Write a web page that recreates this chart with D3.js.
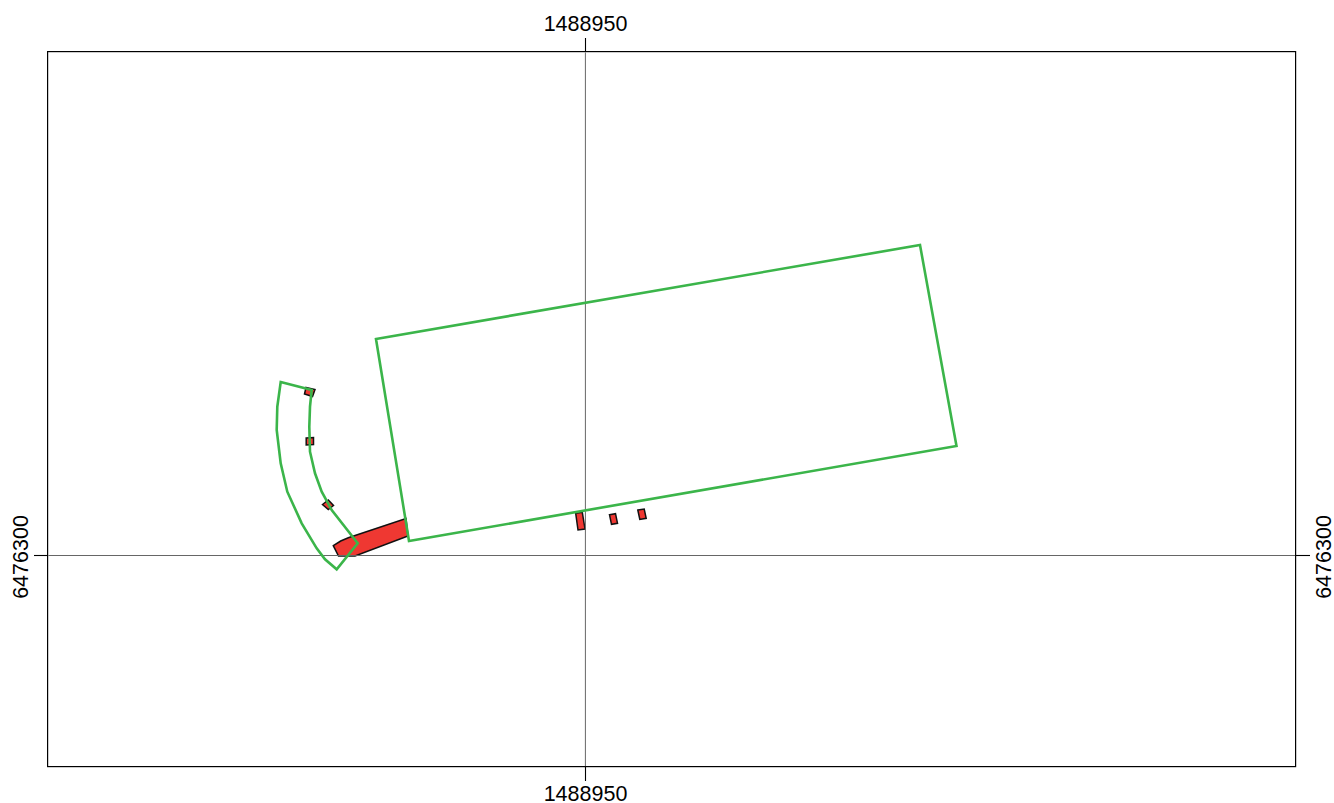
<!DOCTYPE html>
<html>
<head>
<meta charset="utf-8">
<style>html,body{margin:0;padding:0;background:#fff}svg{display:block}text{font-family:"Liberation Sans",Arial,sans-serif}</style>
<script src="https://cdn.jsdelivr.net/npm/d3@7"></script>
</head>
<body>
<svg id="c" width="1334" height="803"></svg>
<script>
const xDomain = [1488896.3, 1489021.1];
const yDomain = [6476278.8, 6476350.3];
const xTicks = [1488950];
const yTicks = [6476300];

const rectangleZone = [[1488929.1,6476321.6],[1488983.5,6476331.0],[1488987.15,6476310.9],[1488932.4,6476301.4]];
const arcZone = [[1488919.57,6476317.3],[1488922.67,6476316.5],[1488922.5,6476314.83],[1488922.43,6476312.83],[1488922.5,6476310.33],[1488923.0,6476308.17],[1488923.67,6476306.33],[1488924.67,6476304.5],[1488927.27,6476301.17],[1488925.17,6476298.57],[1488924.0,6476299.57],[1488923.17,6476300.67],[1488921.67,6476303.17],[1488920.23,6476306.33],[1488919.57,6476309.17],[1488919.17,6476312.5],[1488919.23,6476314.83]];
const bigFootprint = [[1488924.83,6476300.93],[1488925.57,6476301.4],[1488926.33,6476301.73],[1488932.1,6476303.65],[1488932.3,6476301.9],[1488927.0,6476299.9],[1488925.35,6476299.9]];
const footprintA = [[1488949.07,6476304.17],[1488949.73,6476304.27],[1488950.0,6476302.6],[1488949.3,6476302.5]];
const footprintB = [[1488952.45,6476304.03],[1488953.05,6476304.13],[1488953.25,6476303.17],[1488952.65,6476303.07]];
const footprintC = [[1488955.28,6476304.5],[1488955.92,6476304.6],[1488956.12,6476303.67],[1488955.48,6476303.55]];
const footprintD = [[1488922.1,6476316.75],[1488923.0,6476316.55],[1488922.75,6476315.85],[1488921.95,6476316.1]];
const footprintE = [[1488922.12,6476311.7],[1488922.85,6476311.75],[1488922.85,6476311.05],[1488922.12,6476311.0]];
const footprintF = [[1488923.75,6476305.05],[1488924.33,6476305.5],[1488924.85,6476304.95],[1488924.33,6476304.55]];

const footprints = [bigFootprint, footprintA, footprintB, footprintC, footprintD, footprintE, footprintF];
const zones = [rectangleZone, arcZone];

const left = 48, right = 1296, top_ = 52, bottom = 767, tickLen = 14, labelSize = 21.5;
const x = d3.scaleLinear().domain(xDomain).range([left, right]);
const y = d3.scaleLinear().domain(yDomain).range([bottom, top_]);
const svg = d3.select("#c");
const path = d3.line().x(d => x(d[0])).y(d => y(d[1])).curve(d3.curveLinearClosed);

svg.append("g").selectAll("path").data(footprints).join("path")
  .attr("d", path).attr("fill", "#ef3832").attr("stroke", "#111").attr("stroke-width", 1.5).attr("stroke-linejoin", "miter");

const grid = svg.append("g").attr("stroke", "#666").attr("stroke-width", 1).attr("transform", "translate(0.4,0.5)");
grid.selectAll("line.v").data(xTicks).join("line").attr("class", "v")
  .attr("x1", d => x(d)).attr("x2", d => x(d)).attr("y1", top_).attr("y2", bottom);
grid.selectAll("line.h").data(yTicks).join("line").attr("class", "h")
  .attr("y1", d => y(d)).attr("y2", d => y(d)).attr("x1", left).attr("x2", right);

svg.append("g").selectAll("path").data(zones).join("path")
  .attr("d", path).attr("fill", "none").attr("stroke", "#3bb54a").attr("stroke-width", 2.6).attr("stroke-linejoin", "miter");

svg.append("rect").attr("x", left - 0.4).attr("y", top_ - 0.4).attr("width", right - left).attr("height", bottom - top_)
  .attr("fill", "none").attr("stroke", "#000").attr("stroke-width", 1.2);

function styleAxis(g) {
  g.select(".domain").remove();
  g.selectAll(".tick line").attr("stroke", "#000").attr("stroke-width", 1.1);
  g.selectAll(".tick text").attr("fill", "#000").attr("font-size", labelSize)
    .attr("font-family", '"Liberation Sans",Arial,sans-serif');
}
const fmt = d3.format("d");
svg.append("g").attr("transform", `translate(0,${top_})`)
  .call(d3.axisTop(x).tickValues(xTicks).tickFormat(fmt).tickSize(tickLen).tickPadding(7)).call(styleAxis);
svg.append("g").attr("transform", `translate(0,${bottom})`)
  .call(d3.axisBottom(x).tickValues(xTicks).tickFormat(fmt).tickSize(tickLen).tickPadding(5)).call(styleAxis);
const la = svg.append("g").attr("transform", `translate(${left},0)`)
  .call(d3.axisLeft(y).tickValues(yTicks).tickFormat(fmt).tickSize(tickLen)).call(styleAxis);
la.selectAll(".tick text").attr("x", null).attr("dy", null).attr("text-anchor", "middle")
  .attr("transform", "translate(-20.5,1.5) rotate(-90)");
const ra = svg.append("g").attr("transform", `translate(${right},0)`)
  .call(d3.axisRight(y).tickValues(yTicks).tickFormat(fmt).tickSize(tickLen)).call(styleAxis);
ra.selectAll(".tick text").attr("x", null).attr("dy", null).attr("text-anchor", "middle")
  .attr("transform", "translate(35.2,1.5) rotate(-90)");
</script>
</body>
</html>
